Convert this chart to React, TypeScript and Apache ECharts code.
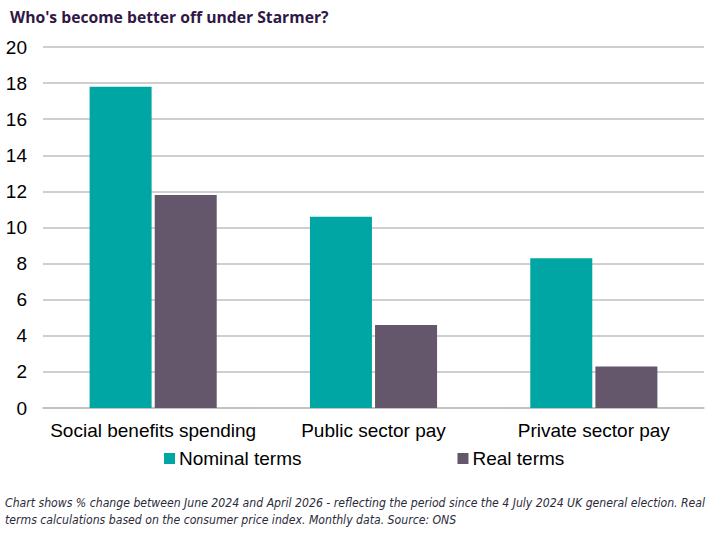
import React, { useEffect, useRef } from "react";
import * as echarts from "echarts";

const categories = ["Social benefits spending", "Public sector pay", "Private sector pay"];
const nominalTerms = [17.8, 10.6, 8.3];
const realTerms = [11.8, 4.6, 2.3];
const yTicks = { min: 0, max: 20, interval: 2 };

export default function App() {
  const ref = useRef<HTMLDivElement>(null);
  useEffect(() => {
    const chart = echarts.init(ref.current!, null, { renderer: "svg" });
    chart.setOption({
      animation: false,
      backgroundColor: "#ffffff",
      title: {
        text: "Who's become better off under Starmer?",
        left: 5,
        top: 4,
        textStyle: { fontFamily: "Open Sans", fontWeight: "bold", fontSize: 15.7, color: "#2f1846" },
      },
      grid: { left: 43, right: 22, top: 47, bottom: 126, containLabel: false },
      legend: {
        left: 159,
        top: 444,
        icon: "rect",
        itemWidth: 11,
        itemHeight: 11,
        itemGap: 156,
        textStyle: { fontFamily: "Liberation Sans", fontSize: 19, color: "#000", padding: [0, 0, 0, -1] },
        data: ["Nominal terms", "Real terms"],
      },
      xAxis: {
        type: "category",
        data: categories,
        axisLine: { show: true, lineStyle: { color: "#bfbfbf", width: 1.5 } },
        axisTick: { show: false },
        axisLabel: { fontFamily: "Liberation Sans", fontSize: 19, color: "#000", margin: 13, interval: 0 },
      },
      yAxis: {
        type: "value",
        min: yTicks.min,
        max: yTicks.max,
        interval: yTicks.interval,
        axisLine: { show: false },
        axisTick: { show: false },
        splitLine: { lineStyle: { color: "#bfbfbf", width: 1.5 } },
        axisLabel: { fontFamily: "Liberation Sans", fontSize: 19, color: "#000", margin: 16 },
      },
      series: [
        {
          name: "Nominal terms",
          type: "bar",
          data: nominalTerms,
          barWidth: 62,
          barGap: "5%",
          itemStyle: { color: "#00a6a4" },
        },
        {
          name: "Real terms",
          type: "bar",
          data: realTerms,
          barWidth: 62,
          itemStyle: { color: "#64566b" },
        },
      ],
      graphic: [
        {
          type: "text",
          left: 5,
          top: 495,
          style: {
            text:
              "Chart shows % change between June 2024 and April 2026 - reflecting the period since the 4 July 2024 UK general election. Real\nterms calculations based on the consumer price index. Monthly data. Source: ONS",
            font: "italic 12.15px 'Liberation Sans Narrow', 'DejaVu Sans Condensed', sans-serif",
            lineHeight: 16.5,
            fill: "#2b2b3a",
          },
        },
      ],
    });
    return () => chart.dispose();
  }, []);
  return <div ref={ref} style={{ width: 726, height: 534, position: "absolute", left: 0, top: 0 }} />;
}
